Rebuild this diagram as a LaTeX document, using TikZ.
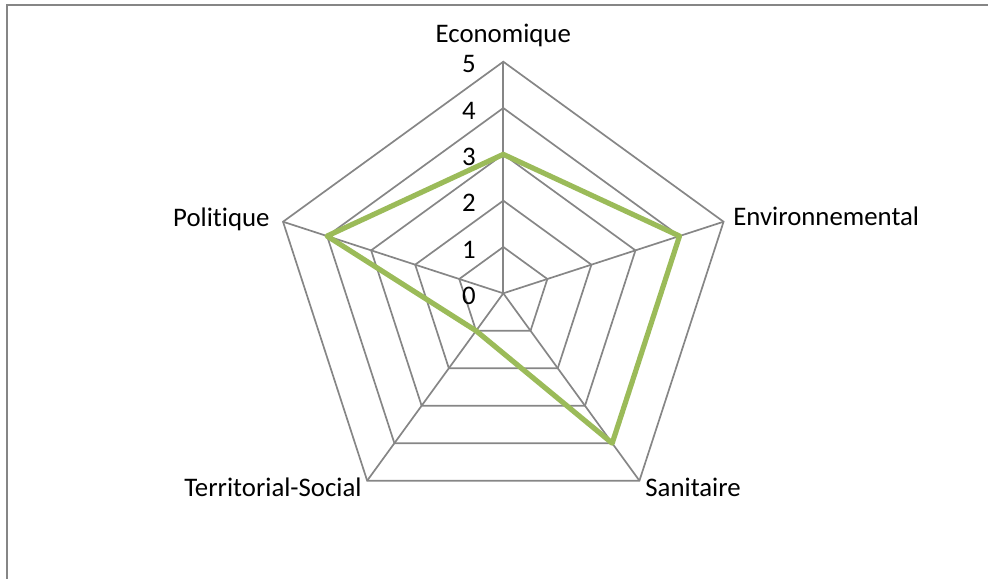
\documentclass[tikz,border=0pt]{standalone}
\usepackage{fontspec}
\setmainfont{Carlito}[Ligatures=NoCommon]
\definecolor{gridgray}{HTML}{868686}
\definecolor{seriesgreen}{HTML}{9BBB59}
\tikzset{
  grid line/.style={gridgray,line width=0.85pt},
  series line/.style={seriesgreen,line width=2.6pt,line join=round},
  axis label/.style={inner sep=0pt,font=\fontsize{13.4}{15}\selectfont},
  tick label/.style={inner sep=0pt,anchor=east,font=\fontsize{13.4}{15}\selectfont}
}

\begin{document}
\begin{tikzpicture}[x=0.5pt,y=0.5pt]
\useasboundingbox (-503.3,-285.7) rectangle (484.7,293.3);
% The frame
\draw[gridgray,line width=0.75pt] (484.7,288.3) -- (-496.3,288.3) -- (-496.3,-285.7);
% The spokes
\foreach \ang [count=\i] in {90,18,-54,-126,162}
{
  \coordinate (v\i) at (\ang:231.6);
  \draw[grid line] (0,0) -- (v\i);
}
% The rings
\foreach \r in {1,...,5}
  \draw[grid line] (90:{\r*46.32}) -- (18:{\r*46.32}) -- (-54:{\r*46.32})
    -- (-126:{\r*46.32}) -- (162:{\r*46.32}) -- cycle;
% Tick labels
\foreach \r in {0,...,5}
  \node[tick label] (t\r) at (-27.3,{\r*46.32-2.5}) {\r};

% Axis labels
\node[axis label,anchor=base] (eco) at (0,250.6) {Economique};
\node[axis label,anchor=base west] (env) at (229.7,68.3) {Environnemental};
\node[axis label,anchor=base west] (san) at (141.7,-202.7) {Sanitaire};
\node[axis label,anchor=base east] (ter) at (-141.3,-202.7) {Territorial-Social};
\node[axis label,anchor=base east] (pol) at (-233.3,66.6) {Politique};

% The series
\foreach \ang/\val [count=\i] in {90/3,18/4,-54/4,-126/1,162/4}
  \coordinate (s\i) at (\ang:{\val*46.32});
\draw[series line] (s1) -- (s2) -- (s3) -- (s4) -- (s5) -- cycle;
\end{tikzpicture}
\end{document}
